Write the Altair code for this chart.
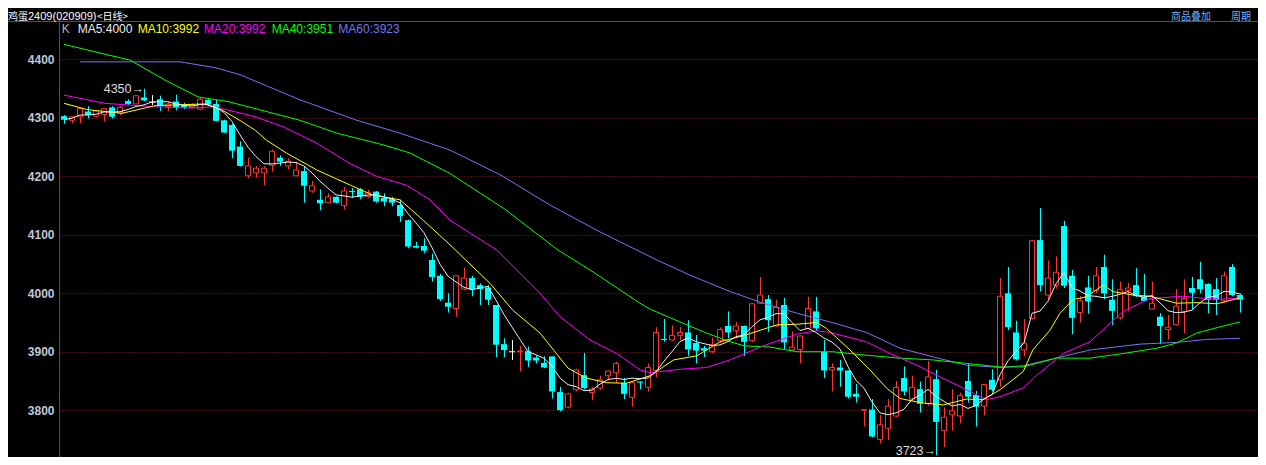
import altair as alt
import pandas as pd

# ---------------- candle data ----------------
opens = [4303, 4296, 4302, 4311, 4303, 4306, 4318, 4308, 4329, 4324,
         4335, 4327, 4332, 4320, 4328, 4322, 4318, 4315, 4331, 4324,
         4296, 4288, 4251, 4201, 4206, 4206, 4219, 4232, 4218, 4201,
         4209, 4175, 4160, 4155, 4165, 4150, 4175, 4178, 4165, 4174,
         4163, 4161, 4151, 4125, 4081, 4081, 4057, 4030, 3984, 3974,
         4007, 4026, 4014, 4010, 3980, 3913, 3900, 3900, 3901, 3890,
         3881, 3892, 3831, 3805, 3835, 3860, 3830, 3838, 3859, 3864,
         3847, 3822, 3849, 3839, 3868, 3922, 3920, 3928, 3933, 3915,
         3906, 3900, 3919, 3944, 3936, 3944, 3919, 3983, 3990, 3944,
         3980, 3903, 3904, 3940, 3969, 3900, 3869, 3873, 3868, 3828,
         3800, 3801, 3750, 3769, 3790, 3855, 3819, 3836, 3811, 3853,
         3765, 3792, 3790, 3850, 3826, 3807, 3852, 3852, 4000, 3933,
         3903, 3957, 4091, 3997, 4014, 4115, 4030, 3967, 4010, 4005,
         4045, 3989, 3958, 4005, 4014, 3994, 3973, 3960, 3938, 3946,
         3969, 4009, 4024, 4016, 4007, 3987, 4045, 3997]
highs = [4305, 4302, 4317, 4320, 4313, 4316, 4320, 4320, 4332, 4338,
         4350, 4339, 4338, 4328, 4340, 4326, 4325, 4334, 4334, 4331,
         4297, 4290, 4260, 4232, 4218, 4218, 4246, 4236, 4231, 4225,
         4217, 4192, 4178, 4171, 4166, 4182, 4180, 4180, 4177, 4175,
         4171, 4165, 4160, 4126, 4088, 4094, 4068, 4033, 4000, 4031,
         4044, 4030, 4017, 4014, 3980, 3923, 3920, 3910, 3909, 3893,
         3892, 3892, 3840, 3830, 3871, 3898, 3840, 3859, 3868, 3883,
         3855, 3849, 3849, 3880, 3942, 3956, 3945, 3942, 3954, 3929,
         3910, 3924, 3942, 3969, 3951, 3945, 3983, 4028, 3997, 3989,
         3992, 3935, 3928, 3994, 3994, 3920, 3880, 3886, 3868, 3845,
         3802, 3819, 3792, 3819, 3850, 3875, 3859, 3849, 3884, 3869,
         3805, 3836, 3830, 3879, 3833, 3845, 3870, 4026, 4045, 3953,
         3956, 4091, 4146, 4056, 4063, 4124, 4040, 3995, 4030, 4045,
         4066, 4024, 4020, 4018, 4043, 4033, 4020, 3966, 3963, 4007,
         4024, 4028, 4054, 4017, 4026, 4037, 4050, 4000]
lows = [4290, 4291, 4291, 4299, 4301, 4294, 4299, 4305, 4322, 4324,
        4329, 4322, 4312, 4312, 4313, 4315, 4316, 4314, 4320, 4294,
        4274, 4231, 4217, 4197, 4198, 4185, 4208, 4218, 4212, 4201,
        4155, 4172, 4142, 4155, 4154, 4144, 4163, 4161, 4163, 4155,
        4149, 4149, 4122, 4077, 4077, 4069, 4020, 3987, 3967, 3960,
        4005, 3995, 3980, 3980, 3891, 3891, 3886, 3866, 3874, 3880,
        3872, 3820, 3798, 3803, 3832, 3836, 3817, 3835, 3851, 3847,
        3819, 3806, 3836, 3832, 3856, 3917, 3919, 3920, 3893, 3880,
        3891, 3898, 3915, 3923, 3923, 3893, 3917, 3982, 3934, 3943,
        3904, 3902, 3880, 3938, 3936, 3855, 3832, 3840, 3820, 3813,
        3772, 3753, 3743, 3749, 3788, 3825, 3816, 3796, 3808, 3723,
        3737, 3765, 3778, 3813, 3772, 3791, 3832, 3840, 3937, 3885,
        3892, 3955, 4003, 3989, 4008, 4009, 3930, 3950, 3965, 4000,
        3990, 3946, 3955, 3970, 3994, 3986, 3972, 3913, 3921, 3944,
        3932, 3973, 4000, 3966, 3963, 3984, 3995, 3967]
closes = [4297, 4302, 4316, 4305, 4312, 4316, 4302, 4318, 4324, 4338,
          4330, 4327, 4320, 4324, 4318, 4318, 4322, 4332, 4323, 4295,
          4275, 4244, 4218, 4218, 4214, 4214, 4243, 4225, 4226, 4211,
          4184, 4184, 4154, 4165, 4155, 4175, 4173, 4165, 4172, 4157,
          4157, 4155, 4132, 4080, 4078, 4073, 4028, 3990, 3977, 4030,
          4026, 4007, 4007, 3989, 3912, 3903, 3900, 3901, 3885, 3885,
          3873, 3832, 3800, 3828, 3869, 3838, 3836, 3852, 3867, 3880,
          3828, 3847, 3847, 3873, 3933, 3920, 3928, 3933, 3904, 3902,
          3902, 3912, 3938, 3933, 3944, 3917, 3982, 3997, 3954, 3976,
          3916, 3908, 3927, 3974, 3940, 3868, 3873, 3868, 3823, 3823,
          3801, 3755, 3775, 3807, 3839, 3832, 3839, 3811, 3857, 3780,
          3788, 3799, 3825, 3823, 3806, 3844, 3835, 3995, 3942, 3887,
          3915, 4090, 4014, 4026, 4036, 4013, 3958, 3987, 3986, 4030,
          4000, 3970, 4006, 4009, 3995, 3987, 3983, 3944, 3942, 3978,
          3991, 4001, 4007, 3989, 3989, 4030, 3997, 3989]

# ---------------- moving-average lines ----------------
ma10_idx = [0, 3, 7.25, 11.4, 17.6, 19.7, 22.2, 23.9, 25.3, 27.8, 31.6, 35.8, 38.6, 42, 44.9,
            48.25, 53.25, 56.1, 59.5, 63, 65.3, 67.8, 70.3, 73.25, 76.2, 79.1, 82, 85.3, 89.1, 91.6,
            94.1, 95.3, 98.25, 100.75, 102.8, 104.5, 107, 109.9, 112.8, 114.9, 117, 119.9, 121.1,
            123.25, 124.5, 126.1, 127.8, 129.9, 131.1, 133.6, 135.75, 139.1, 141.6, 144.1, 147]
ma10_val = [4325, 4314, 4308, 4321, 4324, 4314, 4294, 4279, 4262, 4240, 4211, 4185, 4168, 4160, 4125,
            4083, 4017, 3971, 3932, 3872, 3855, 3847, 3846, 3859, 3886, 3893, 3917, 3929, 3946, 3947,
            3950, 3940, 3903, 3869, 3838, 3820, 3813, 3809, 3819, 3818, 3835, 3866, 3903,
            3937, 3966, 3989, 3994, 4014, 4003, 3997, 3995, 3983, 3984, 3982, 3992]
ma20_idx = [0, 5.1, 11.4, 15.5, 18.9, 23.9, 27.4, 31.6, 35.75, 39.1, 42.8, 45.75, 48.25, 54.1, 59.5,
            62, 65.75, 69.1, 72, 73.25, 77, 80.3, 83.25, 87.4, 91.6, 94.1, 95.75, 100.3, 103.25, 106.6,
            109.5, 112.8, 115.3, 117, 119.9, 121.6, 124.9, 128.25, 130.3, 132.4, 135.75, 139.9, 142.8,
            144.9, 147]
ma20_val = [4339, 4325, 4319, 4317, 4319, 4302, 4285, 4257, 4222, 4200, 4185, 4160, 4125, 4074, 4000,
            3960, 3920, 3897, 3869, 3864, 3870, 3873, 3886, 3910, 3930, 3936, 3933, 3917, 3897, 3877,
            3857, 3835, 3818, 3823, 3838, 3860, 3897, 3917, 3943, 3969, 3991, 3995, 3991,
            3990, 3992]
ma40_idx = [0, 4.5, 8.25, 12.6, 16.75, 20.5, 23.9, 29.5, 34.1, 39.9, 43.25, 48.25, 55, 61.75, 65.75,
            72, 73.25, 77, 80.3, 83.25, 85.1, 88.25, 91.6, 96.1, 100.3, 104.5, 108.6, 112.8, 117,
            119.9, 124, 128.25, 132.4, 136.6, 139.1, 141.6, 144.9, 147]
ma40_val = [4426, 4411, 4399, 4365, 4336, 4328, 4316, 4296, 4274, 4254, 4240, 4205, 4145, 4074, 4040,
            3983, 3973, 3951, 3932, 3917, 3910, 3908, 3900, 3900, 3894, 3889, 3886, 3880, 3874,
            3874, 3889, 3889, 3897, 3906, 3915, 3932, 3944, 3951]
ma60_idx = [2, 14.5, 18.9, 22, 29.5, 36.6, 42, 48.25, 54.5, 60.75, 67, 71.6, 74.1, 78.25, 83.25,
            87.4, 91.6, 95.75, 100.3, 104.5, 108.7, 112.8, 117, 119.9, 124, 128.25, 134.5, 139.1,
            142.8, 147]
ma60_val = [4396, 4396, 4386, 4374, 4331, 4296, 4274, 4245, 4203, 4151, 4105, 4074, 4057, 4031, 4003,
            3983, 3966, 3951, 3933, 3906, 3891, 3877, 3873, 3876, 3889, 3903, 3913, 3916,
            3921, 3923]

y_ticks = [3800, 3900, 4000, 4100, 4200, 4300, 4400]
legend_labels = ["K", "MA5:4000", "MA10:3992", "MA20:3992", "MA40:3951", "MA60:3923"]
title_parts = ["鸡蛋", "2409(020909)", "<日线>"]
menu_labels = ["商品叠加", "周期"]

# ---------------- styling ----------------
RED = "#ff3232"
CYAN = "#00ffff"
WHITE = "#ffffff"
C_MA5 = "#eeeeee"
C_MA10 = "#ffff00"
C_MA20 = "#ff00ff"
C_MA40 = "#00ff00"
C_MA60 = "#7474f4"
GRID = "#8c1c1c"
AXISC = "#b4281e"
LINK = "#6eb4ff"

PLOT_W = 1199
PLOT_H = 439
X = alt.Scale(domain=[-0.625, -0.625 + PLOT_W / 8], nice=False, zero=False)
Y = alt.Scale(domain=[3719.9, 4471.0], nice=False, zero=False)
yaxis = alt.Axis(values=y_ticks, format="d", title=None, ticks=False, tickSize=0, labelPadding=5,
                 labelColor="#bec8d7", labelFont="Liberation Sans", labelFontSize=12,
                 labelFontWeight="bold", domainColor=AXISC, domainWidth=1,
                 grid=True, gridColor=GRID, gridDash=[1, 2], gridWidth=1)


def xq(f):
    return alt.X(f, type="quantitative", scale=X, axis=None)


def yq(f):
    return alt.Y(f, type="quantitative", scale=Y, axis=yaxis)


candles = pd.DataFrame({"i": list(range(len(opens))), "o": opens, "h": highs,
                        "l": lows, "c": closes})

base = alt.Chart(candles).transform_calculate(
    d="datum.c > datum.o ? 'up' : (datum.c < datum.o ? 'down' : 'flat')",
    xw="datum.i + 0.0625",
    b0="datum.i - 0.375", b1="datum.i + 0.375",
    r0="datum.i - 0.3125", r1="datum.i + 0.3125",
)
dcolor = alt.Color("d:N", scale=alt.Scale(domain=["up", "down", "flat"],
                                          range=[RED, CYAN, WHITE]), legend=None)

wicks = base.mark_rule(strokeWidth=1).encode(x=xq("xw"), y=yq("l"), y2="h:Q", color=dcolor)
down = base.transform_filter("datum.d == 'down'").mark_rect(color=CYAN).encode(
    x=xq("b0"), x2="b1:Q", y=yq("o"), y2="c:Q")
up = base.transform_filter("datum.d == 'up'").mark_rect(
    fill="#000000", stroke=RED, strokeWidth=1).encode(
    x=xq("r0"), x2="r1:Q", y=yq("o"), y2="c:Q")
flat = base.transform_filter("datum.d == 'flat'").mark_rule(color=WHITE, strokeWidth=1).encode(
    x=xq("b0"), x2="b1:Q", y=yq("c"))

ma5 = base.transform_window(ma5="mean(c)", frame=[-4, 0], sort=[{"field": "i"}]).mark_line(
    color=C_MA5, strokeWidth=1).encode(x=xq("i"), y=yq("ma5"))


def ma_line(idx, val, colr):
    df = pd.DataFrame({"i": idx, "v": val})
    return alt.Chart(df).mark_line(color=colr, strokeWidth=1).encode(x=xq("i"), y=yq("v"))


ma_layers = [ma_line(ma60_idx, ma60_val, C_MA60), ma_line(ma40_idx, ma40_val, C_MA40),
             ma_line(ma20_idx, ma20_val, C_MA20), ma_line(ma10_idx, ma10_val, C_MA10), ma5]

# extreme annotations
hi_v = max(highs)
lo_v = min(lows)


def extreme_label(idx, v, dy):
    df = pd.DataFrame({"i": [idx], "v": [v], "t": [f"{v}→"]})
    return alt.Chart(df).mark_text(align="right", baseline="middle", font="Liberation Sans",
                                   fontSize=12.5, color="#dcdcdc", dy=dy).encode(
        x=xq("i"), y=yq("v"), text="t:N")


ann_hi = extreme_label(highs.index(hi_v), hi_v, 0)
ann_lo = extreme_label(lows.index(lo_v), lo_v, -4)


def label(t, x, y, colr, font="Liberation Sans", size=12):
    return alt.Chart(pd.DataFrame({"t": [t]})).mark_text(
        align="left", baseline="alphabetic", font=font, fontSize=size, color=colr).encode(
        x=alt.value(x), y=alt.value(y), text="t:N")


def hline(x0, x1, y, colr):
    return alt.Chart(pd.DataFrame({"a": [0]})).mark_rule(color=colr, strokeWidth=1).encode(
        x=alt.value(x0), x2=alt.value(x1), y=alt.value(y))


TB = 1.8  # title baseline (plot coords)
texts = [
    label(title_parts[0], -51, TB, WHITE, "Noto Sans CJK SC", 10),
    label(title_parts[1], -31, TB, WHITE, "Liberation Sans", 11),
    label(title_parts[2], 38, TB, WHITE, "Noto Sans CJK SC", 10),
    label(menu_labels[0], 1112, TB, LINK, "Noto Sans CJK SC", 10),
    label(menu_labels[1], 1172, TB, LINK, "Noto Sans CJK SC", 10),
]
leg_x = [2.7, 18.7, 78.7, 145, 212.7, 279.3]
leg_c = ["#b4b4b4", C_MA5, C_MA10, C_MA20, C_MA40, C_MA60]
for t, xx, cc in zip(legend_labels, leg_x, leg_c):
    texts.append(label(t, xx, 15, cc))

header = hline(-51, PLOT_W, 3.5, AXISC)

chart = alt.layer(
    header, wicks, down, up, flat, *ma_layers, ann_hi, ann_lo, *texts
).properties(
    width=PLOT_W, height=PLOT_H,
    padding={"left": 51, "top": 10, "right": 0, "bottom": 0},
    autosize=alt.AutoSizeParams(type="none"),
    background="#000000",
).configure_view(stroke=None)

chart.save("out.html", embed_options={"renderer": "svg", "actions": False})
